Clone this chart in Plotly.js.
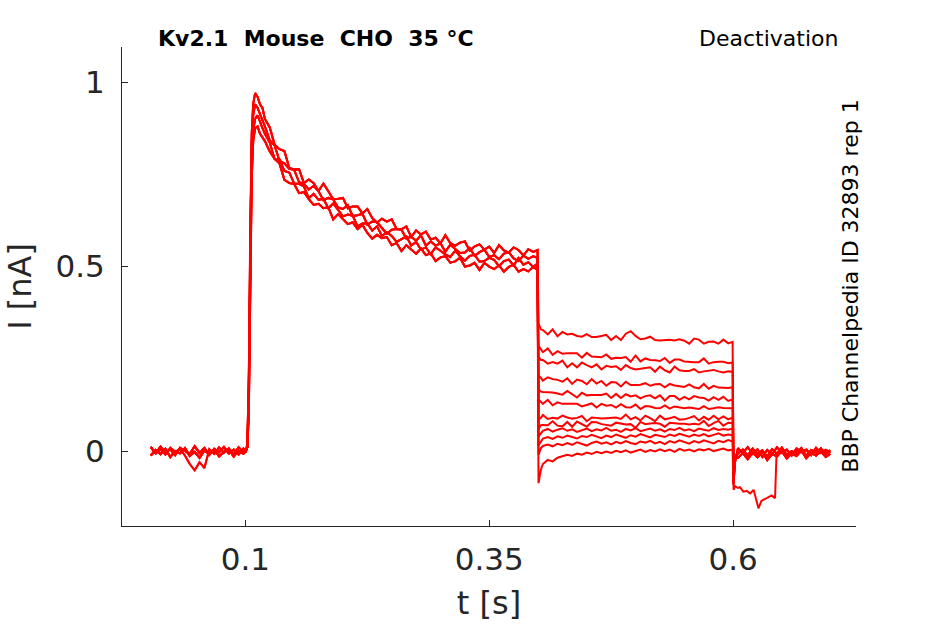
<!DOCTYPE html>
<html>
<head>
<meta charset="utf-8">
<script src="https://cdn.plot.ly/plotly-3.0.1.min.js"></script>
<style>
  html, body { margin: 0; padding: 0; background: #fff; }
  #chart { width: 945px; height: 624px; }
</style>
</head>
<body>
<div id="chart"></div>
<script>
// time samples [s] for each protocol segment
const tBase = [0.003, 0.008, 0.013, 0.018, 0.023, 0.028, 0.033, 0.038, 0.043, 0.048,
  0.053, 0.058, 0.063, 0.068, 0.073, 0.078, 0.083, 0.088, 0.093, 0.098];
const tAct = [0.1005, 0.102, 0.1035, 0.105, 0.1065, 0.108, 0.11, 0.1125, 0.115, 0.1175, 0.12,
  0.125, 0.13, 0.135, 0.14, 0.145, 0.15, 0.155, 0.16, 0.165, 0.17, 0.175, 0.18, 0.185, 0.19, 0.195,
  0.2, 0.205, 0.21, 0.215, 0.22, 0.225, 0.23, 0.235, 0.24, 0.245, 0.25, 0.255, 0.26, 0.265, 0.27,
  0.275, 0.28, 0.285, 0.29, 0.295, 0.3, 0.305, 0.31, 0.315, 0.32, 0.325, 0.33, 0.335, 0.34, 0.345,
  0.35, 0.355, 0.36, 0.365, 0.37, 0.375, 0.38, 0.385, 0.39, 0.395, 0.3995];
const tDeact = [0.4005, 0.403, 0.405, 0.41, 0.415, 0.42, 0.425, 0.43, 0.435, 0.44, 0.445, 0.45,
  0.455, 0.46, 0.465, 0.47, 0.475, 0.48, 0.485, 0.49, 0.495, 0.5, 0.505, 0.51, 0.515, 0.52, 0.525,
  0.53, 0.535, 0.54, 0.545, 0.55, 0.555, 0.56, 0.565, 0.57, 0.575, 0.58, 0.585, 0.59, 0.595, 0.5995];
const tTail = [0.6005, 0.602, 0.605, 0.61, 0.615, 0.62, 0.625, 0.63, 0.635, 0.64, 0.645, 0.65,
  0.655, 0.66, 0.665, 0.67, 0.675, 0.68, 0.685, 0.69, 0.695, 0.6995];
const tTailDip = [0.6005, 0.602, 0.605, 0.607, 0.6105, 0.614, 0.6175, 0.621, 0.6245, 0.626, 0.629,
  0.6345, 0.6395, 0.643, 0.6445, 0.647, 0.65, 0.655, 0.66, 0.665, 0.67, 0.675, 0.68, 0.685, 0.69,
  0.695, 0.6995];

// holding current before the step [nA]
const baseA = [0.010, -0.006, 0.012, -0.004, 0.005, -0.011, 0.009, 0.001, -0.008, 0.013,
  -0.005, 0.008, -0.010, 0.006, -0.003, 0.011, -0.007, 0.004, -0.009, 0.007];
const baseB = [-0.012, 0.003, -0.008, 0.006, -0.016, 0.000, -0.006, 0.008, -0.013, -0.002,
  -0.018, 0.002, -0.009, 0.004, -0.014, -0.003, 0.005, -0.015, 0.001, -0.007];
const baseC = [0.012, -0.006, 0.004, -0.010, 0.009, -0.002, 0.006, -0.012, -0.035, -0.052,
  -0.030, -0.046, 0.005, -0.008, 0.010, -0.004, 0.008, -0.009, 0.011, -0.003];

// activating step, four groups of sweeps
const actA = [0.00, 0.02, 0.20, 0.62, 0.86, 0.94, 0.97, 0.96, 0.94, 0.93, 0.90,
  0.877, 0.830, 0.818, 0.813, 0.767, 0.763, 0.764, 0.726, 0.736, 0.726, 0.705, 0.725, 0.704, 0.683,
  0.684, 0.686, 0.658, 0.663, 0.663, 0.644, 0.656, 0.632, 0.619, 0.630, 0.622, 0.628, 0.602, 0.601,
  0.609, 0.580, 0.598, 0.587, 0.595, 0.573, 0.578, 0.563, 0.585, 0.564, 0.556, 0.565, 0.568, 0.543,
  0.555, 0.560, 0.546, 0.554, 0.537, 0.558, 0.544, 0.538, 0.552, 0.545, 0.530, 0.547, 0.540, 0.545];
const actB = [0.00, 0.01, 0.16, 0.58, 0.83, 0.91, 0.94, 0.93, 0.915, 0.90, 0.88,
  0.842, 0.828, 0.786, 0.780, 0.765, 0.762, 0.729, 0.724, 0.709, 0.719, 0.704, 0.680, 0.686, 0.682,
  0.660, 0.656, 0.666, 0.637, 0.639, 0.643, 0.614, 0.622, 0.620, 0.603, 0.589, 0.600, 0.602, 0.600,
  0.576, 0.581, 0.570, 0.585, 0.557, 0.568, 0.557, 0.563, 0.540, 0.559, 0.548, 0.537, 0.538, 0.550,
  0.529, 0.539, 0.546, 0.526, 0.531, 0.520, 0.535, 0.539, 0.522, 0.515, 0.530, 0.521, 0.528, 0.524];
const actC = [0.00, 0.01, 0.13, 0.52, 0.78, 0.87, 0.90, 0.91, 0.89, 0.875, 0.86,
  0.836, 0.791, 0.790, 0.759, 0.755, 0.725, 0.724, 0.717, 0.685, 0.697, 0.681, 0.684, 0.658, 0.671,
  0.654, 0.636, 0.641, 0.638, 0.609, 0.617, 0.617, 0.598, 0.609, 0.583, 0.593, 0.583, 0.567, 0.575,
  0.582, 0.557, 0.567, 0.546, 0.552, 0.534, 0.552, 0.543, 0.533, 0.526, 0.543, 0.528, 0.516, 0.529,
  0.532, 0.513, 0.515, 0.524, 0.518, 0.501, 0.515, 0.519, 0.503, 0.523, 0.505, 0.512, 0.499, 0.508];
const actD = [0.00, 0.01, 0.10, 0.47, 0.74, 0.84, 0.875, 0.88, 0.86, 0.85, 0.84,
  0.812, 0.792, 0.779, 0.735, 0.726, 0.724, 0.699, 0.702, 0.683, 0.667, 0.670, 0.658, 0.661, 0.628,
  0.642, 0.629, 0.615, 0.620, 0.602, 0.613, 0.591, 0.576, 0.586, 0.577, 0.580, 0.558, 0.564, 0.542,
  0.558, 0.546, 0.535, 0.549, 0.531, 0.536, 0.515, 0.525, 0.528, 0.511, 0.514, 0.524, 0.500, 0.503,
  0.510, 0.491, 0.510, 0.500, 0.493, 0.504, 0.486, 0.499, 0.505, 0.486, 0.493, 0.487, 0.499, 0.491];

// deactivation (tail) currents, one per test voltage
const deact1 = [0.345, 0.33, 0.328, 0.316, 0.330, 0.311, 0.323, 0.316, 0.318, 0.312, 0.310, 0.317,
  0.309, 0.309, 0.312, 0.315, 0.301, 0.312, 0.301, 0.318, 0.325, 0.312, 0.303, 0.305, 0.310, 0.301,
  0.300, 0.301, 0.302, 0.300, 0.303, 0.299, 0.291, 0.305, 0.302, 0.291, 0.296, 0.297, 0.291, 0.302, 0.292, 0.296];
const deact2 = [0.285, 0.276, 0.268, 0.278, 0.261, 0.271, 0.264, 0.265, 0.264, 0.265, 0.253, 0.266,
  0.256, 0.256, 0.254, 0.262, 0.250, 0.253, 0.252, 0.255, 0.242, 0.259, 0.243, 0.251, 0.247, 0.246,
  0.244, 0.252, 0.239, 0.248, 0.248, 0.243, 0.241, 0.241, 0.241, 0.251, 0.237, 0.241, 0.242, 0.242, 0.238, 0.240];
const deact3 = [0.255, 0.247, 0.247, 0.237, 0.241, 0.237, 0.245, 0.227, 0.238, 0.227, 0.240, 0.233,
  0.227, 0.235, 0.221, 0.231, 0.228, 0.230, 0.220, 0.233, 0.225, 0.221, 0.223, 0.224, 0.227, 0.215,
  0.229, 0.219, 0.213, 0.229, 0.219, 0.217, 0.217, 0.222, 0.213, 0.216, 0.219, 0.220, 0.216, 0.213, 0.216, 0.215];
const deact4 = [0.205, 0.198, 0.191, 0.200, 0.195, 0.193, 0.188, 0.197, 0.182, 0.194, 0.190, 0.181,
  0.195, 0.183, 0.190, 0.177, 0.187, 0.186, 0.175, 0.188, 0.179, 0.179, 0.180, 0.184, 0.177, 0.181,
  0.182, 0.173, 0.182, 0.178, 0.175, 0.174, 0.181, 0.173, 0.170, 0.182, 0.169, 0.177, 0.172, 0.171, 0.171, 0.173];
const deact5 = [0.168, 0.161, 0.160, 0.160, 0.159, 0.156, 0.153, 0.163, 0.153, 0.145, 0.158, 0.151,
  0.152, 0.152, 0.152, 0.156, 0.144, 0.155, 0.144, 0.154, 0.148, 0.151, 0.143, 0.149, 0.151, 0.143,
  0.151, 0.137, 0.149, 0.149, 0.139, 0.147, 0.140, 0.149, 0.145, 0.144, 0.137, 0.146, 0.139, 0.147, 0.136, 0.140];
const deact6 = [0.140, 0.134, 0.128, 0.139, 0.124, 0.132, 0.128, 0.128, 0.129, 0.128, 0.121, 0.124,
  0.129, 0.118, 0.128, 0.123, 0.125, 0.118, 0.127, 0.119, 0.118, 0.126, 0.114, 0.122, 0.121, 0.117,
  0.116, 0.124, 0.115, 0.121, 0.119, 0.116, 0.118, 0.116, 0.114, 0.122, 0.114, 0.116, 0.119, 0.117, 0.117, 0.116];
const deact7 = [0.085, 0.090, 0.098, 0.087, 0.090, 0.088, 0.096, 0.091, 0.088, 0.090, 0.095, 0.081,
  0.091, 0.090, 0.088, 0.089, 0.089, 0.091, 0.087, 0.099, 0.086, 0.092, 0.083, 0.096, 0.089, 0.081,
  0.096, 0.086, 0.089, 0.093, 0.085, 0.086, 0.090, 0.095, 0.083, 0.093, 0.085, 0.096, 0.086, 0.094, 0.086, 0.091];
const deact8 = [0.060, 0.070, 0.071, 0.070, 0.081, 0.069, 0.067, 0.079, 0.066, 0.080, 0.073, 0.066,
  0.079, 0.078, 0.073, 0.071, 0.069, 0.077, 0.075, 0.072, 0.073, 0.063, 0.079, 0.073, 0.075, 0.076,
  0.074, 0.066, 0.077, 0.075, 0.074, 0.074, 0.072, 0.074, 0.072, 0.082, 0.068, 0.076, 0.082, 0.069, 0.077, 0.076];
const deact9 = [0.040, 0.050, 0.055, 0.060, 0.053, 0.058, 0.062, 0.055, 0.059, 0.052, 0.057, 0.061,
  0.054, 0.059, 0.056, 0.063, 0.055, 0.058, 0.052, 0.060, 0.056, 0.062, 0.054, 0.058, 0.061, 0.055,
  0.059, 0.053, 0.060, 0.057, 0.063, 0.056, 0.059, 0.054, 0.061, 0.058, 0.055, 0.062, 0.057, 0.060, 0.058, 0.061];
const deact10 = [0.015, 0.028, 0.034, 0.038, 0.033, 0.040, 0.036, 0.042, 0.037, 0.034, 0.041, 0.038,
  0.044, 0.039, 0.035, 0.042, 0.038, 0.045, 0.040, 0.036, 0.043, 0.039, 0.046, 0.041, 0.037, 0.044,
  0.040, 0.038, 0.045, 0.041, 0.047, 0.042, 0.039, 0.045, 0.041, 0.046, 0.040, 0.044, 0.048, 0.042, 0.045, 0.043];
const deact11 = [-0.010, 0.008, 0.014, 0.018, 0.013, 0.020, 0.016, 0.022, 0.017, 0.024, 0.019, 0.015,
  0.022, 0.026, 0.020, 0.024, 0.018, 0.025, 0.021, 0.027, 0.022, 0.019, 0.026, 0.023, 0.028, 0.021,
  0.025, 0.019, 0.027, 0.023, 0.029, 0.024, 0.020, 0.027, 0.023, 0.029, 0.025, 0.021, 0.028, 0.024, 0.030, 0.026];
const deact12 = [-0.087, -0.050, -0.035, -0.024, -0.028, -0.018, -0.014, -0.010, -0.013, -0.007, -0.010, -0.004,
  -0.008, -0.002, -0.006, -0.001, -0.005, 0.001, -0.003, 0.002, -0.004, 0.000, 0.004, -0.002, 0.003, -0.001,
  0.005, 0.000, 0.004, -0.002, 0.006, 0.001, 0.004, -0.001, 0.005, 0.002, 0.006, 0.000, 0.004, 0.007, 0.002, 0.004];

// back to holding potential
const tailA = [-0.09, -0.02, -0.006, 0.004, -0.012, 0.007, -0.008, 0.002, -0.015, 0.005, -0.007,
  0.009, -0.011, 0.000, -0.006, 0.008, -0.013, 0.003, -0.004, 0.007, -0.009, 0.002];
const tailB = [-0.05, -0.01, -0.018, -0.006, -0.022, -0.004, -0.017, -0.002, -0.024, -0.008, -0.014,
  0.000, -0.020, -0.006, -0.013, 0.002, -0.019, -0.005, -0.012, -0.001, -0.016, -0.008];
const tailC = [-0.07, -0.03, 0.008, -0.005, 0.011, -0.008, 0.005, -0.016, 0.003, -0.009, 0.010,
  -0.004, 0.004, -0.012, 0.007, -0.002, 0.003, -0.011, 0.009, -0.005, 0.002, -0.006];
const tailDip = [-0.105, -0.095, -0.10, -0.098, -0.11, -0.108, -0.115, -0.105, -0.14, -0.155, -0.135,
  -0.128, -0.12, -0.128, -0.01, 0.002, -0.006, 0.003, -0.008, 0.001, -0.004, 0.005, -0.007, 0.002,
  -0.003, 0.004, -0.002];

const xTickVals = [0.1, 0.35, 0.6];
const xTickText = ['0.1', '0.35', '0.6'];
const yTickVals = [0, 0.5, 1];
const yTickText = ['0', '0.5', '1'];

const deacts = [deact1, deact2, deact3, deact4, deact5, deact6, deact7, deact8, deact9, deact10, deact11, deact12];
const bases = [baseA, baseB, baseC];
const acts = [actA, actB, actC, actD];
const tails = [tailA, tailB, tailC];
const baseOrder = [0, 1, 0, 1, 2, 0, 1, 0, 1, 0, 1, 2];

const ink = '#262626';
const font = 'DejaVu Sans, Verdana, sans-serif';

const traces = deacts.map((d, i) => {
  const last = i === deacts.length - 1;
  return {
    x: tBase.concat(tAct, tDeact, last ? tTailDip : tTail),
    y: bases[baseOrder[i]].concat(acts[i % 4], d, last ? tailDip : tails[i % 3]),
    type: 'scatter',
    mode: 'lines',
    line: { color: '#ff0000', width: 2 },
    hoverinfo: 'skip',
  };
});

const axisStyle = {
  showgrid: false,
  zeroline: false,
  showline: true,
  linecolor: ink,
  linewidth: 1,
  ticks: 'inside',
  ticklen: 6,
  tickwidth: 1,
  tickcolor: ink,
  tickfont: { family: font, size: 31, color: ink },
};

const layout = {
  width: 945,
  height: 624,
  margin: { l: 122, r: 89, t: 47, b: 98 },
  paper_bgcolor: '#fff',
  plot_bgcolor: '#fff',
  showlegend: false,
  xaxis: Object.assign({}, axisStyle, {
    range: [-0.0265, 0.726],
    tickvals: xTickVals,
    ticktext: xTickText,
    ticklabelstandoff: 6,
    title: { text: 't [s]', font: { family: font, size: 32, color: ink }, standoff: 15 },
  }),
  yaxis: Object.assign({}, axisStyle, {
    range: [-0.203, 1.095],
    tickvals: yTickVals,
    ticktext: yTickText,
    ticklabelstandoff: 10,
    title: { text: 'I [nA]', font: { family: font, size: 32, color: ink }, standoff: 14 },
  }),
  annotations: [
    {
      text: '<b>Kv2.1\u00a0\u00a0Mouse\u00a0\u00a0CHO\u00a0\u00a035 °C</b>',
      xref: 'paper', yref: 'paper', x: 0.047, y: 1.017,
      xanchor: 'left', yanchor: 'middle', showarrow: false,
      font: { family: font, size: 22, color: '#000' },
    },
    {
      text: 'Deactivation',
      xref: 'paper', yref: 'paper', x: 0.978, y: 1.017,
      xanchor: 'right', yanchor: 'middle', showarrow: false,
      font: { family: font, size: 22, color: '#000' },
    },
    {
      text: 'BBP Channelpedia ID 32893 rep 1',
      xref: 'paper', yref: 'paper', x: 0.992, y: 0.50,
      xanchor: 'center', yanchor: 'middle', showarrow: false, textangle: -90,
      font: { family: font, size: 22, color: '#000' },
    },
  ],
};

Plotly.newPlot('chart', traces, layout, { displayModeBar: false, staticPlot: true });
</script>
</body>
</html>
